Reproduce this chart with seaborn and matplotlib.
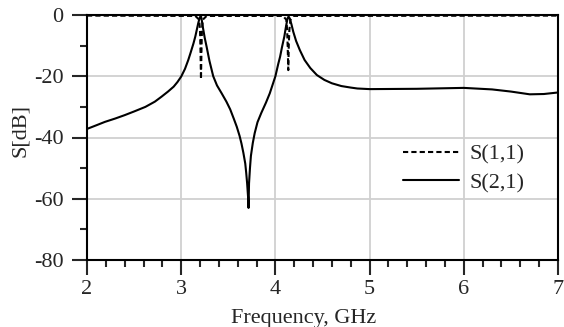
import matplotlib
matplotlib.use("Agg")
import matplotlib.pyplot as plt
from matplotlib.ticker import MultipleLocator
import seaborn as sns
import pandas as pd

# S(2,1)
freq21 = [2.0, 2.1, 2.19, 2.3, 2.4, 2.5, 2.62, 2.72, 2.79, 2.86, 2.92, 2.96, 3.0, 3.04,
          3.075, 3.1, 3.13, 3.15, 3.165, 3.18, 3.19, 3.2, 3.205, 3.212, 3.218, 3.23,
          3.25, 3.27, 3.3, 3.34, 3.38, 3.43, 3.48, 3.52, 3.56, 3.59, 3.62, 3.64, 3.66,
          3.68, 3.69, 3.70, 3.71, 3.715, 3.72, 3.73, 3.74, 3.76, 3.78, 3.81, 3.85, 3.9,
          3.94, 3.97, 4.0, 4.03, 4.05, 4.07, 4.095, 4.11, 4.12, 4.13, 4.14, 4.15, 4.17,
          4.19, 4.22, 4.26, 4.31, 4.37, 4.44, 4.52, 4.6, 4.7, 4.8, 4.87, 5.0, 5.5, 6.0,
          6.3, 6.5, 6.7, 6.85, 7.0]
s21 = [-37.2, -36.0, -34.9, -33.8, -32.7, -31.5, -30.0, -28.3, -26.7, -25.0, -23.4,
       -21.9, -20.1, -17.6, -14.7, -12.3, -9.3, -7.0, -4.9, -2.8, -1.6, -0.7, -0.4,
       -0.6, -1.6, -4.0, -7.5, -10.4, -15.0, -20.0, -23.0, -25.6, -28.3, -30.8, -34.0,
       -36.5, -39.5, -42.0, -45.0, -48.5, -51.5, -55.0, -59.5, -63.0, -55.0, -50.0,
       -46.0, -41.8, -38.6, -35.0, -32.0, -28.6, -25.6, -22.8, -20.0, -16.0, -13.6,
       -10.5, -7.0, -4.2, -2.5, -1.0, -0.5, -1.0, -3.0, -5.5, -8.5, -11.5, -14.7,
       -17.3, -19.6, -21.2, -22.3, -23.2, -23.7, -24.0, -24.2, -24.1, -23.8, -24.3,
       -25.0, -25.9, -25.8, -25.3]

# S(1,1)
freq11 = [2.0, 3.15, 3.19, 3.2, 3.205, 3.21, 3.215, 3.22, 3.23, 3.27, 4.08, 4.115,
          4.125, 4.13, 4.137, 4.142, 4.148, 4.16, 4.19, 7.0]
s11 = [-0.2, -0.3, -1.5, -5.0, -12.0, -21.0, -12.0, -5.0, -1.5, -0.3, -0.3, -1.5,
       -5.0, -10.0, -18.0, -10.0, -5.0, -1.5, -0.3, -0.2]

xticks = [2, 3, 4, 5, 6, 7]
yticks = [0, -20, -40, -60, -80]

sns.set_style("white")
plt.rcParams['font.family'] = ['Liberation Serif', 'DejaVu Serif']
plt.rcParams['font.size'] = 16

fig = plt.figure(figsize=(5.64, 3.27), dpi=100)
ax = fig.add_axes([87/564, 1 - 260/327, (558 - 87)/564, (260 - 15)/327])

df11 = pd.DataFrame({"f": freq11, "s": s11})
df21 = pd.DataFrame({"f": freq21, "s": s21})
sns.lineplot(data=df11, x="f", y="s", ax=ax, color="black", lw=1.5,
             linestyle=(0, (2.5, 1.5)), label="S(1,1)", sort=False, estimator=None, zorder=4)
sns.lineplot(data=df21, x="f", y="s", ax=ax, color="black", lw=1.5,
             label="S(2,1)", sort=False, estimator=None, zorder=3)

ax.set_xlim(2, 7)
ax.set_ylim(-80, 0)
ax.set_xticks(xticks)
ax.set_yticks(yticks)
ax.set_xticklabels([str(t) for t in xticks])
ax.set_yticklabels([str(t) for t in yticks])
ax.xaxis.set_minor_locator(MultipleLocator(0.2))
ax.yaxis.set_minor_locator(MultipleLocator(10))
ax.tick_params(which="major", direction="out", length=11, width=1.5, labelsize=16)
ax.tick_params(which="minor", direction="out", length=5, width=1.5)
ax.tick_params(axis="x", which="both", bottom=True, pad=3.5)
ax.tick_params(axis="y", which="both", left=True, pad=6)
ax.grid(True, which="major", color="#d0d0d0", lw=1.3)
for sp in ax.spines.values():
    sp.set_color("black")
    sp.set_linewidth(1.5)

ax.set_xlabel("Frequency, GHz", fontsize=16)
ax.set_ylabel("S[dB]", fontsize=16, labelpad=0)
ax.xaxis.set_label_coords(0.46, -0.2)
ax.yaxis.set_label_coords(-0.121, 0.53)

leg = ax.legend(loc="center left", bbox_to_anchor=(0.671, 0.373), frameon=False,
                fontsize=16, handlelength=2.5, handletextpad=0.5, labelspacing=0.35,
                borderpad=0, borderaxespad=0)

fig.savefig("out.png", dpi=100)
